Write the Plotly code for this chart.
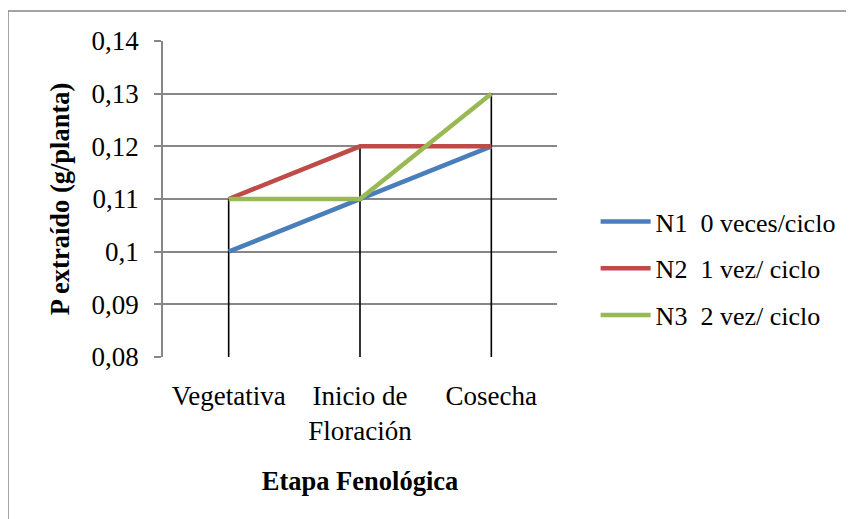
import plotly.graph_objects as go

# ---- data ----
etapas = ['Vegetativa', 'Inicio de<br>Floración', 'Cosecha']
n1 = [0.10, 0.11, 0.12]
n2 = [0.11, 0.12, 0.12]
n3 = [0.11, 0.11, 0.13]
series_names = ['N1  0 veces/ciclo', 'N2  1 vez/ ciclo', 'N3  2 vez/ ciclo']
colores = ['#4A7EBB', '#BE4B48', '#98B954']
y_min, y_max, y_step = 0.08, 0.14, 0.01

FONT = 'Liberation Serif, Times New Roman, serif'

fig = go.Figure()

# drop lines (Excel style): from axis up to the highest series value per category
drop_x, drop_y = [], []
for i, cat in enumerate(etapas):
    top = max(n1[i], n2[i], n3[i])
    drop_x += [cat, cat, None]
    drop_y += [y_min, top, None]
fig.add_trace(go.Scatter(x=drop_x, y=drop_y, mode='lines',
                         line=dict(color='black', width=1.6),
                         showlegend=False, hoverinfo='skip'))

for i, (name, vals) in enumerate(zip(series_names, [n1, n2, n3])):
    fig.add_trace(go.Scatter(
        x=etapas, y=vals, mode='lines', name=name,
        legendgroup=str(i),
        line=dict(color=colores[i], width=4.5),
    ))

# page body has an 8px margin, so margins are shifted by 8
fig.update_layout(
    width=854, height=519,
    margin=dict(l=155, r=305, t=33, b=170),
    paper_bgcolor='white', plot_bgcolor='white',
    separators=', ',
    font=dict(family=FONT, size=26, color='black'),
    legend=dict(x=1.098, y=0.28, xanchor='left', yanchor='middle',
                font=dict(family=FONT, size=26), tracegroupgap=10,
                itemwidth=50, bgcolor='rgba(0,0,0,0)'),
    shapes=[dict(type='rect', xref='paper', yref='paper',
                 x0=-155 / 394, x1=1.8, y0=-0.6, y1=1 + 30 / 316,
                 line=dict(color='#878787', width=1.5), layer='below')],
)

fig.update_xaxes(
    type='category', range=[-0.5, 2.5],
    showgrid=False, showline=False, ticks='',
    tickfont=dict(family=FONT, size=27),
    ticklabelstandoff=20,
    title=dict(text='<b>Etapa Fenológica</b>', font=dict(family=FONT, size=26.5), standoff=26),
)
fig.update_yaxes(
    range=[y_min, y_max], dtick=y_step, tick0=y_min,
    showgrid=True, gridcolor='#878787', gridwidth=1.5,
    showline=True, linecolor='#878787', linewidth=1.5,
    ticks='outside', ticklen=7, tickcolor='#878787', tickwidth=1.5,
    tickfont=dict(family=FONT, size=27),
    ticklabelstandoff=10,
    zeroline=False,
    title=dict(text='<b>P extraído (g/planta)</b>', font=dict(family=FONT, size=26.5), standoff=14),
)

fig.write_html('out.html')
